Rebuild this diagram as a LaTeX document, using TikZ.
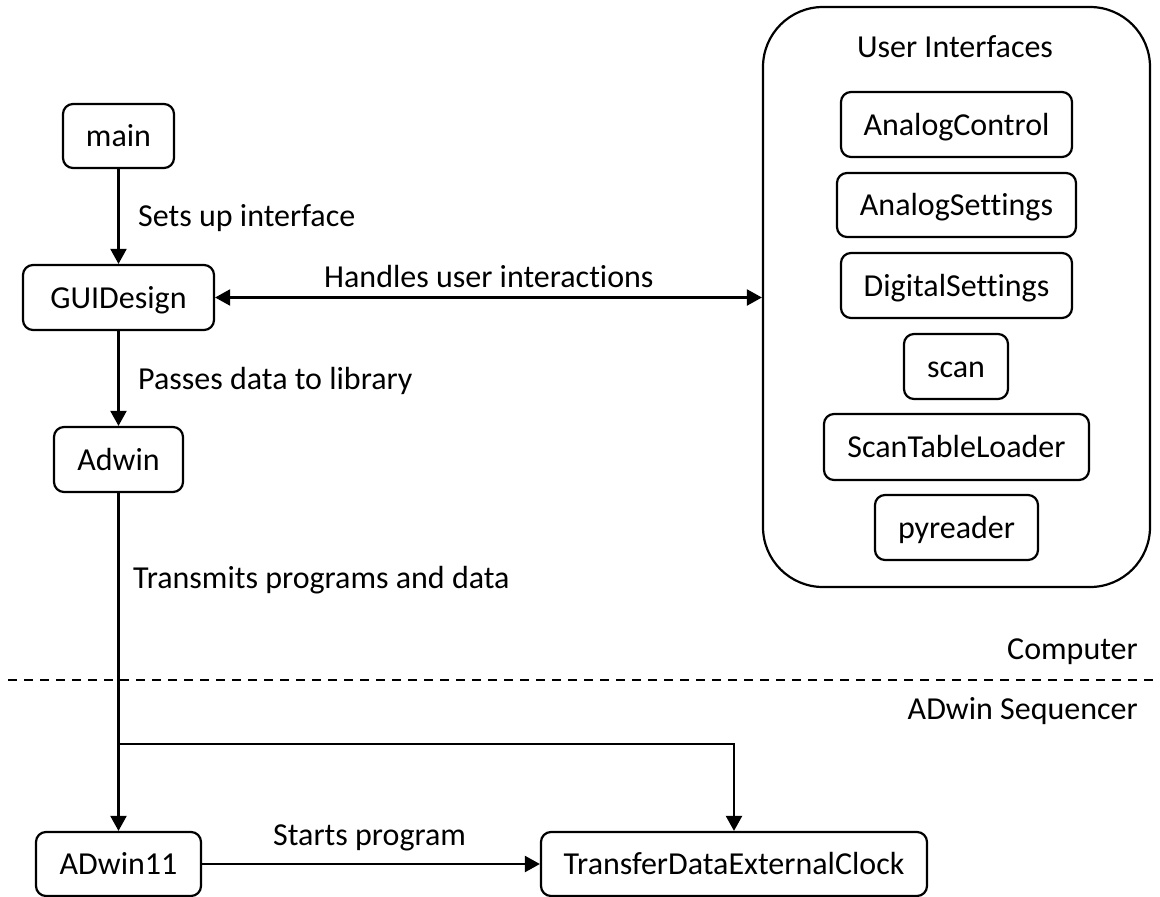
\documentclass[tikz,border=0pt]{standalone}
\usepackage{fontspec}
\setmainfont{Carlito}[Ligatures={NoCommon}]
\usetikzlibrary{arrows.meta}
\begin{document}
\begin{tikzpicture}[x=1pt,y=-1pt,
  every node/.style={font=\fontsize{32}{38}\selectfont},
  box/.style={draw,line width=2.2pt,rounded corners=10pt,inner sep=0pt,text height=21pt,text depth=0pt},
  lbl/.style={anchor=base west,inner sep=0pt},
  rlbl/.style={anchor=base east,inner sep=0pt},
  arr/.style={line width=2.2pt,-{Triangle[length=15pt,width=16pt]}},
  darr/.style={line width=2.2pt,{Triangle[length=15pt,width=16pt]}-{Triangle[length=15pt,width=16pt]}},
  divider/.style={line width=1.6pt,dash pattern=on 9pt off 7pt}]
\useasboundingbox (0,0) rectangle (1160,897);
% left column
\node[box,minimum width=111pt,minimum height=64pt] (main) at (118.5,136) {main};
\node[box,minimum width=191pt,minimum height=65pt] (gui) at (118.5,297.5) {GUIDesign};
\node[box,minimum width=129pt,minimum height=65pt] (adwin) at (118.5,459.5) {Adwin};
\node[box,minimum width=165pt,minimum height=64pt] (adwin11) at (118.5,864) {ADwin11};
\node[box,minimum width=386pt,minimum height=64pt] (transfer) at (734,864) {TransferDataExternalClock};
% user interfaces container
\node[draw,line width=2.2pt,rounded corners=60pt,minimum width=387pt,minimum height=580pt,inner sep=0pt] (ui) at (956.5,297) {};
\node[anchor=base,inner sep=0pt] (uititle) at (955,57) {User Interfaces};
\node[box,minimum width=231pt,minimum height=65pt] (ac) at (956.5,124.5) {AnalogControl};
\node[box,minimum width=239pt,minimum height=64pt] (as) at (956.5,205) {AnalogSettings};
\node[box,minimum width=231pt,minimum height=65pt] (ds) at (956.5,285.5) {DigitalSettings};
\node[box,minimum width=104pt,minimum height=65pt] (scan) at (956,366.5) {scan};
\node[box,minimum width=265pt,minimum height=66pt] (stl) at (956.5,447) {ScanTableLoader};
\node[box,minimum width=163pt,minimum height=65pt] (py) at (956.5,527.5) {pyreader};
% connectors
\draw[arr] (main.south) -- (gui.north);
\draw[arr] (gui.south) -- (adwin.north);
\draw[darr] (gui.east) -- (gui.east -| ui.west);
\draw[arr] (adwin.south) -- (adwin11.north);
\coordinate (branch) at (118.5,744);
\draw[arr] (branch) -| (transfer.north);
\draw[arr] (adwin11.east) -- (transfer.west);
% divider
\coordinate (dl) at (8,680);
\coordinate (dr) at (1160,680);
\draw[divider] (dl) -- (dr);
% labels
\node[lbl] (l1) at (138,226) {Sets up interface};
\node[lbl] (l2) at (138,389) {Passes data to library};
\node[lbl] (l3) at (324,287) {Handles user interactions};
\node[lbl] (l4) at (133,588) {Transmits programs and data};
\node[lbl] (l5) at (273,845) {Starts program};
\node[rlbl] (comp) at (1138,659) {Computer};
\node[rlbl] (seq) at (1138,719) {ADwin Sequencer};
\end{tikzpicture}
\end{document}
